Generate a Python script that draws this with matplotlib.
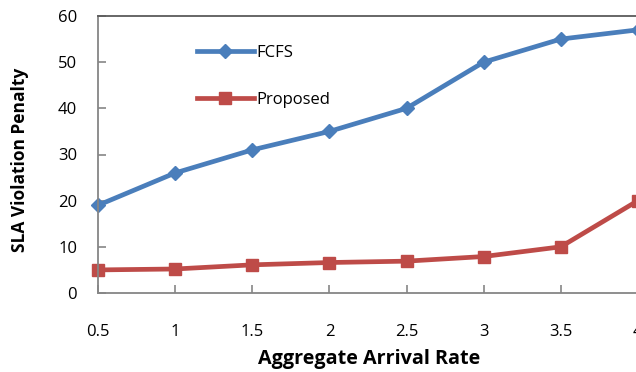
import matplotlib
matplotlib.use("Agg")
import matplotlib.pyplot as plt

rates = [0.5, 1, 1.5, 2, 2.5, 3, 3.5, 4]
fcfs = [19, 26, 31, 35, 40, 50, 55, 57]
proposed = [5, 5.2, 6.1, 6.6, 6.9, 7.9, 10, 20]
xticks = [0.5, 1, 1.5, 2, 2.5, 3, 3.5, 4, 4.5]
xticklabels = ["0.5", "1", "1.5", "2", "2.5", "3", "3.5", "4", "4.5"]
yticks = [0, 10, 20, 30, 40, 50, 60]

plt.rcParams['font.family'] = ['Open Sans', 'DejaVu Sans']

W, H = 636, 372
fig = plt.figure(figsize=(W / 100, H / 100), dpi=100)
ax = fig.add_axes([98 / W, 1 - 293 / H, 617 / W, 277 / H])

ax.plot(rates, fcfs, color='#4A7EBB', lw=3.4, marker='D', ms=7, label='FCFS', clip_on=False)
ax.plot(rates, proposed, color='#BE4B48', lw=3.4, marker='s', ms=8, label='Proposed', clip_on=False)

ax.set_xlim(0.5, 4.5)
ax.set_ylim(0, 60)
ax.set_xticks(xticks)
ax.set_xticklabels(xticklabels)
ax.set_yticks(yticks)

for s in ['left', 'bottom']:
    ax.spines[s].set_color('#868686')
    ax.spines[s].set_linewidth(1.3)
ax.spines['top'].set_color('#5a5a5a')
ax.spines['top'].set_linewidth(1.3)
ax.spines['right'].set_visible(False)

ax.tick_params(axis='both', direction='in', length=6, color='#868686', width=1.2,
               labelsize=12, labelcolor='black')
ax.tick_params(axis='x', pad=22)
ax.tick_params(axis='y', pad=15)

ax.set_ylabel('SLA Violation Penalty', fontsize=12.5, fontweight='bold')
ax.yaxis.set_label_coords(-0.112, 0.48)
fig.text(369 / W, 1 - 359 / H, 'Aggregate Arrival Rate', fontsize=14.2, fontweight='bold',
         ha='center', va='center')

leg = ax.legend(loc='upper left', bbox_to_anchor=(182 / W, 1 - 30 / H),
                bbox_transform=fig.transFigure, frameon=False, fontsize=12,
                handlelength=3.4, handletextpad=0.15, labelspacing=1.85)

fig.savefig('out.png', dpi=100)
